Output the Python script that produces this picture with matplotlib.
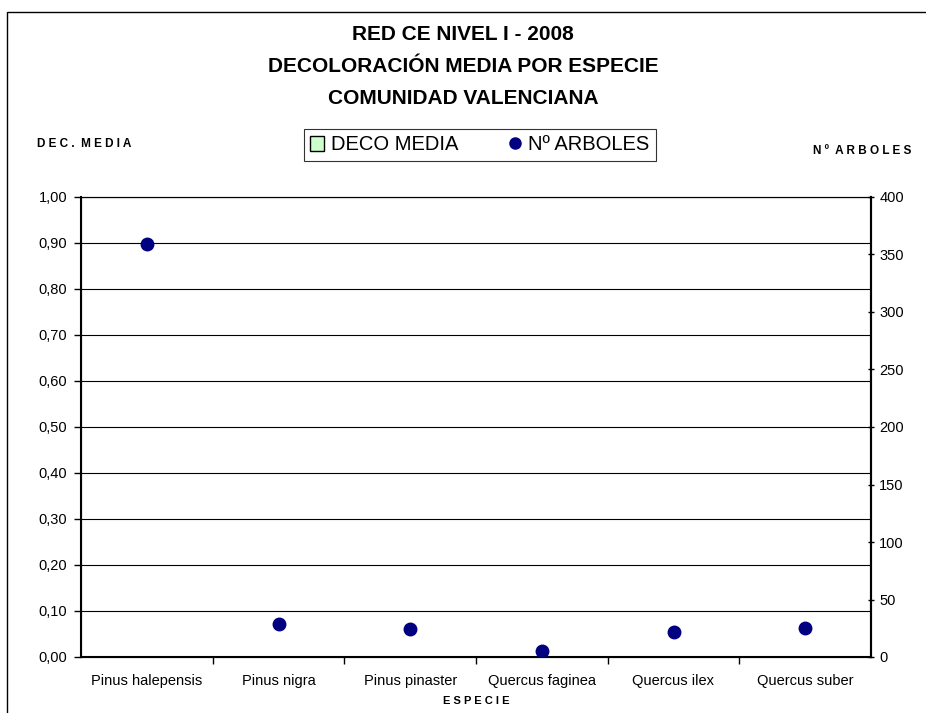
import matplotlib.pyplot as plt
from matplotlib.patches import Patch, Rectangle
from matplotlib.lines import Line2D
from matplotlib.ticker import MultipleLocator

especies = ['Pinus halepensis', 'Pinus nigra', 'Pinus pinaster',
            'Quercus faginea', 'Quercus ilex', 'Quercus suber']
deco_media = [0, 0, 0, 0, 0, 0]
n_arboles = [359, 29, 24, 5, 22, 25]

plt.rcParams['font.family'] = ['Liberation Sans', 'DejaVu Sans']

fig = plt.figure(figsize=(9.26, 7.13), dpi=100)
ax = fig.add_axes([81 / 926, 1 - 657 / 713, (871 - 81) / 926, (657 - 197) / 713])

# frame round the whole chart
fig.patches.append(Rectangle((7 / 926, -0.05), 1.1, 1 - 12 / 713 + 0.05,
                             transform=fig.transFigure, fill=False,
                             edgecolor='black', linewidth=1.0))

x = range(len(especies))
ax.bar(x, deco_media, width=0.5, color='#ccffcc', linewidth=0)
ax.set_xlim(-0.5, len(especies) - 0.5)
ax.set_ylim(0, 1.0)
ax.yaxis.set_major_locator(MultipleLocator(0.1))
ax.yaxis.set_major_formatter(plt.FuncFormatter(lambda v, p: f'{v:.2f}'.replace('.', ',')))
ax.grid(axis='y', color='black', linewidth=0.8)
ax.set_axisbelow(True)
ax.set_xticks([i + 0.5 for i in range(len(especies) - 1)], minor=False)
ax.set_xticklabels([])
ax.set_xticks(list(x), minor=True)
ax.set_xticklabels(especies, minor=True)
ax.tick_params(axis='x', which='major', length=5, direction='out', width=1)
ax.tick_params(axis='x', which='minor', length=0, pad=12, labelsize=10.5)
ax.tick_params(axis='y', length=5, direction='out', labelsize=10.5, width=1, pad=5)
for s in ['top', 'bottom', 'left', 'right']:
    ax.spines[s].set_linewidth(1.5)
ax.spines['top'].set_linewidth(0.8)

ax2 = ax.twinx()
ax2.plot(x, n_arboles, 'o', color='#000080', markersize=9)
ax2.set_ylim(0, 400)
ax2.yaxis.set_major_locator(MultipleLocator(50))
ax2.tick_params(axis='y', length=5, direction='inout', labelsize=10.5, width=1)
ax2.spines['right'].set_linewidth(1.5)

ax.set_xlabel('E S P E C I E', fontsize=8, fontweight='bold', labelpad=6)

fig.text(0.5, 1 - 35 / 713, 'RED CE NIVEL I - 2008', ha='center', va='center',
         fontsize=15, fontweight='bold')
fig.text(0.5, 1 - 67 / 713, 'DECOLORACIÓN MEDIA POR ESPECIE', ha='center', va='center',
         fontsize=15, fontweight='bold')
fig.text(0.5, 1 - 99 / 713, 'COMUNIDAD VALENCIANA', ha='center', va='center',
         fontsize=15, fontweight='bold')
fig.text(37 / 926, 1 - 144 / 713, 'D E C .  M E D I A', ha='left', va='center',
         fontsize=8.5, fontweight='bold')
fig.text(911 / 926, 1 - 151 / 713, 'N º  A R B O L E S', ha='right', va='center',
         fontsize=8.5, fontweight='bold')

handles = [Patch(facecolor='#ccffcc', edgecolor='black', linewidth=1),
           Line2D([], [], marker='o', linestyle='none', color='#000080', markersize=8)]
leg = fig.legend(handles, ['DECO MEDIA', 'Nº ARBOLES'], loc='center',
                 bbox_to_anchor=(480 / 926, 1 - 145 / 713), ncol=2, fontsize=14.5,
                 frameon=True, fancybox=False, edgecolor='black', handlelength=0.7,
                 handletextpad=0.3, columnspacing=2.5, borderpad=0.3, borderaxespad=0)
leg.get_frame().set_linewidth(0.8)

fig.savefig('out.png', dpi=100)
